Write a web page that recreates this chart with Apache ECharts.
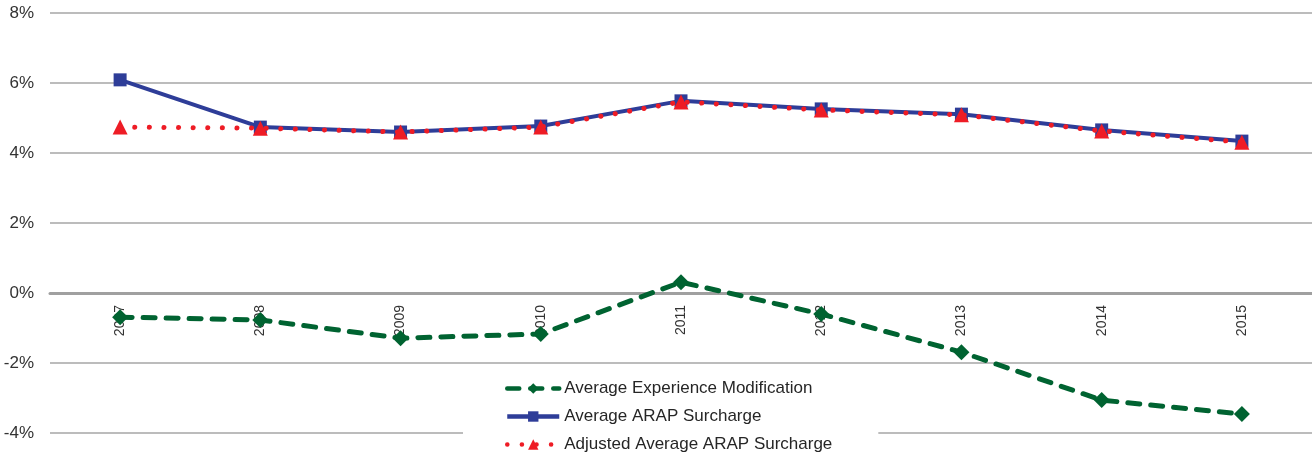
<!DOCTYPE html>
<html>
<head>
<meta charset="utf-8">
<script src="https://cdn.jsdelivr.net/npm/echarts@6/dist/echarts.min.js"></script>
<style>
  html, body { margin: 0; padding: 0; background: #fff; }
  #chart { width: 1312px; height: 456px; }
</style>
</head>
<body>
<div id="chart"></div>
<script>
const years = ['2007', '2008', '2009', '2010', '2011', '2012', '2013', '2014', '2015']
const experienceMod = [-0.69, -0.77, -1.29, -1.17, 0.31, -0.6, -1.69, -3.06, -3.46]
const arapSurcharge = [6.09, 4.74, 4.6, 4.77, 5.49, 5.26, 5.11, 4.66, 4.34]
const adjustedArap = [4.74, 4.71, 4.6, 4.74, 5.46, 5.23, 5.09, 4.63, 4.31]

const chart = echarts.init(document.getElementById('chart'))

const font = 'Liberation Sans, Arial, sans-serif'

chart.setOption({
  animation: false,
  textStyle: { fontFamily: font },
  grid: { left: 50, right: 0, top: 13, bottom: 23, containLabel: false, outerBoundsMode: 'none' },
  legend: {
    orient: 'vertical',
    left: 463,
    bottom: 0,
    padding: [8, 46, 3, 42],
    backgroundColor: '#fff',
    itemWidth: 52,
    itemHeight: 13,
    itemGap: 11,
    lineStyle: { width: 4.5 },
    textStyle: { fontSize: 17, color: '#262626', fontFamily: font },
    data: ['Average Experience Modification', 'Average ARAP Surcharge', 'Adjusted Average ARAP Surcharge'],
  },
  xAxis: {
    type: 'category',
    data: years,
    boundaryGap: true,
    offset: -140,
    axisLine: { onZero: false, lineStyle: { color: '#a0a0a0', width: 3 } },
    axisTick: { show: false },
    axisLabel: { rotate: 90, margin: 12, fontSize: 14, color: '#333', fontFamily: font },
    splitLine: { show: false },
  },
  yAxis: {
    type: 'value',
    min: -4,
    max: 8,
    interval: 2,
    axisLine: { show: false },
    axisTick: { show: false },
    axisLabel: { formatter: '{value}%', fontSize: 17, color: '#333', margin: 16, fontFamily: font },
    splitLine: { lineStyle: { color: '#a6a6a6', width: 1.5 } },
  },
  series: [
    {
      name: 'Average Experience Modification',
      type: 'line',
      data: experienceMod,
      symbol: 'diamond',
      symbolSize: 16,
      lineStyle: { color: '#006331', width: 5, type: [12, 11], cap: 'round' },
      itemStyle: { color: '#006331' },
      z: 2,
    },
    {
      name: 'Average ARAP Surcharge',
      type: 'line',
      data: arapSurcharge,
      symbol: 'rect',
      symbolSize: 13,
      lineStyle: { color: '#2e3d98', width: 4 },
      itemStyle: { color: '#2e3d98' },
      z: 3,
    },
    {
      name: 'Adjusted Average ARAP Surcharge',
      type: 'line',
      data: adjustedArap,
      symbol: 'triangle',
      symbolSize: 15,
      lineStyle: { color: '#ee1c25', width: 5, type: [0.1, 14.5], cap: 'round' },
      itemStyle: { color: '#ee1c25' },
      z: 4,
    },
  ],
})
</script>
</body>
</html>
